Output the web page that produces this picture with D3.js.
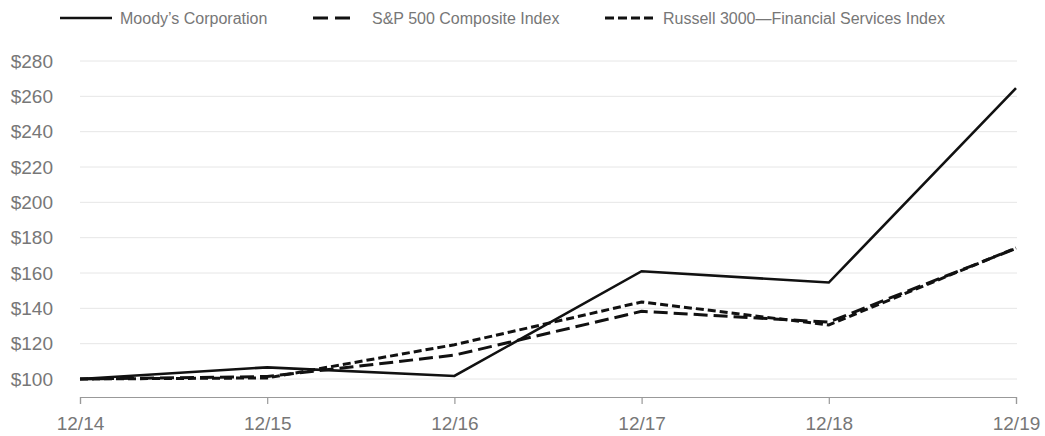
<!DOCTYPE html>
<html>
<head>
<meta charset="utf-8">
<script src="https://cdn.jsdelivr.net/npm/d3@7"></script>
<style>
  body { margin: 0; background: #fff; }
  svg { display: block; font-family: "Liberation Sans", Arial, sans-serif; }
</style>
</head>
<body>
<div id="chart"></div>
<script>
// data
const periods = ['12/14', '12/15', '12/16', '12/17', '12/18', '12/19'];
const moodys = [100, 106.6, 101.7, 161.0, 154.6, 264.7];
const sp500 = [100, 101.4, 113.5, 138.3, 132.2, 173.9];
const russell = [100, 100.6, 119.4, 143.6, 130.6, 174.2];
const yTicks = [100, 120, 140, 160, 180, 200, 220, 240, 260, 280];

const series = [
  {name: 'Moody\u2019s Corporation', values: moodys, dash: null, width: 2.6},
  {name: 'S&P 500 Composite Index', values: sp500, dash: '14,6', width: 3},
  {name: 'Russell 3000\u2014Financial Services Index', values: russell, dash: '8,4', width: 3}
];

const chartW = 1045, chartH = 436;
const plotLeft = 80, plotRight = 1016, plotTop = 61, plotBottom = 397;

const svg = d3.select('#chart').append('svg')
  .attr('width', chartW)
  .attr('height', chartH);

const x = d3.scalePoint()
  .domain(periods)
  .range([plotLeft, plotRight]);

const y = d3.scaleLinear()
  .domain([100, 280])
  .range([379, plotTop]);

// gridlines
svg.append('g')
  .selectAll('line')
  .data(yTicks)
  .enter().append('line')
  .attr('x1', plotLeft)
  .attr('x2', plotRight + 1)
  .attr('y1', d => y(d))
  .attr('y2', d => y(d))
  .attr('stroke', '#e6e6e6')
  .attr('stroke-width', 1);

// y labels
svg.append('g')
  .selectAll('text')
  .data(yTicks)
  .enter().append('text')
  .attr('x', 53)
  .attr('y', d => y(d))
  .attr('dy', '0.35em')
  .attr('text-anchor', 'end')
  .attr('font-size', 19)
  .attr('fill', '#777')
  .text(d => '$' + d);

// x axis
const xAxis = svg.append('g')
  .attr('transform', 'translate(0,' + plotBottom + ')')
  .call(d3.axisBottom(x).tickSize(7).tickPadding(13));
xAxis.select('.domain').attr('stroke', '#999').attr('stroke-width', 1.2);
xAxis.selectAll('.tick line').attr('stroke', '#999').attr('stroke-width', 1.2);
xAxis.selectAll('.tick text')
  .attr('font-size', 19)
  .attr('fill', '#777')
  .attr('font-family', '"Liberation Sans", Arial, sans-serif');

// lines
const line = d3.line()
  .x((d, i) => x(periods[i]))
  .y(d => y(d));

svg.append('g')
  .selectAll('path')
  .data(series)
  .enter().append('path')
  .attr('d', d => line(d.values))
  .attr('fill', 'none')
  .attr('stroke', '#111')
  .attr('stroke-width', d => d.width)
  .attr('stroke-dasharray', d => d.dash)
  .attr('stroke-linejoin', 'miter');

// legend
const legendItems = [
  {s: series[0], x1: 60, x2: 112, tx: 120, dash: null},
  {s: series[1], x1: 313, x2: 350, tx: 372, dash: '15,7'},
  {s: series[2], x1: 605, x2: 654, tx: 663, dash: '9,4'}
];
const legend = svg.append('g');
legend.selectAll('line')
  .data(legendItems)
  .enter().append('line')
  .attr('x1', d => d.x1)
  .attr('x2', d => d.x2)
  .attr('y1', 18)
  .attr('y2', 18)
  .attr('stroke', '#111')
  .attr('stroke-width', d => d.s.width)
  .attr('stroke-dasharray', d => d.dash);
legend.selectAll('text')
  .data(legendItems)
  .enter().append('text')
  .attr('x', d => d.tx)
  .attr('y', 18)
  .attr('dy', '0.35em')
  .attr('font-size', 16)
  .attr('fill', '#777')
  .text(d => d.s.name);
</script>
</body>
</html>
